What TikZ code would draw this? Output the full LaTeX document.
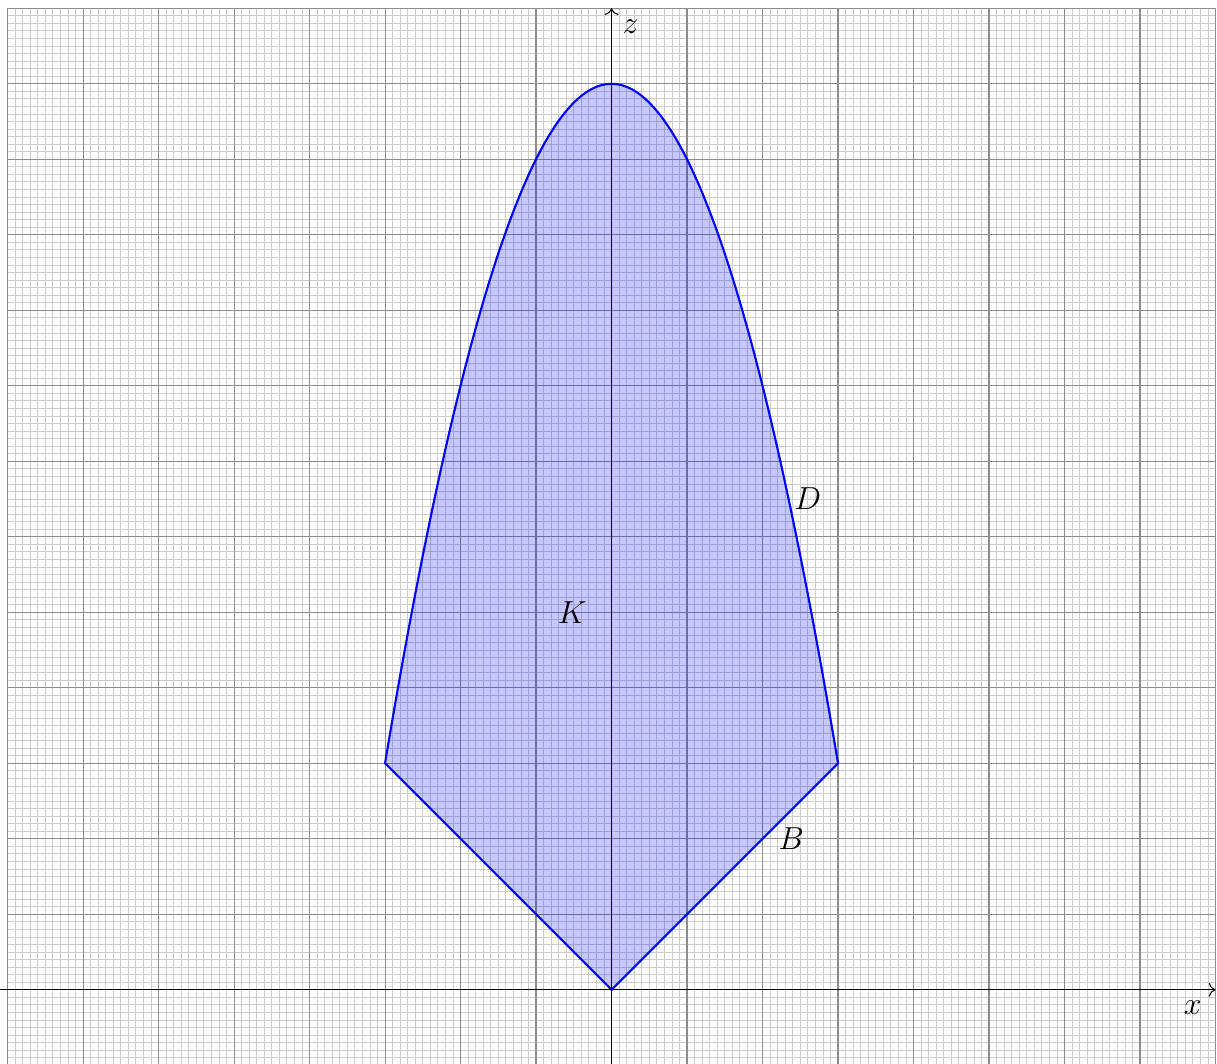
\documentclass[tikz,border=0pt]{standalone}
\usepackage{amsmath,amssymb}
\usepackage{tikz}
\usetikzlibrary{positioning,arrows.meta}

\begin{document}
\begin{tikzpicture}[
    x=1cm, y=1cm,
    finegrid/.style={gray!40, line width=0.3pt},
    coarsegrid/.style={gray!90, line width=0.4pt},
    axis/.style={->, black, line width=0.4pt},
    region/.style={draw=blue, thick, fill=blue, fill opacity=0.22, draw opacity=1}
]
\useasboundingbox (-8.1,-0.97) rectangle (8.02,13.11);

% Grid
\draw[finegrid] (-8,-1) grid[step=0.1] (8,13);
\draw[coarsegrid] (-8,-1) grid[step=1] (8,13);

% Region K
\draw[region] (0,0) -- (3,3)
    -- plot[domain=3:-3, samples=120, smooth] (\x,{12-\x*\x})
    -- (-3,3) -- cycle;

% Axes
\draw[axis] (-8.1,0) -- (8,0) node[below left, inner sep=3pt, xshift=-2pt, yshift=-1pt] (xlab) {\large $x$};
\draw[axis] (0,-1) -- (0,13) node[below right, inner sep=3pt, xshift=1pt, yshift=-1pt] (zlab) {\large $z$};

% Labels
\node (K) at (-0.52,5) {\large $K$};
\node (D) at (2.6,6.5) {\large $D$};
\node (B) at (2.38,2) {\large $B$};
\end{tikzpicture}
\end{document}
